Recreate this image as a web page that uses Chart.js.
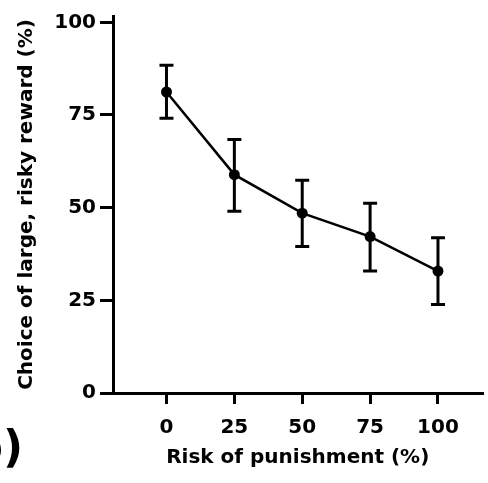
<!DOCTYPE html>
<html>
<head>
<meta charset="utf-8">
<script src="https://cdn.jsdelivr.net/npm/chart.js@4"></script>
<style>
  html, body { margin: 0; padding: 0; background: #fff; }
  #wrap { width: 488px; height: 483px; position: relative; }
</style>
</head>
<body>
<div id="wrap"><canvas id="c" width="488" height="483"></canvas></div>
<script>
const riskOfPunishment = [0, 25, 50, 75, 100];
const choiceLargeRisky = [81.2, 58.9, 48.5, 42.2, 32.9];
const errorLow = [74.1, 49.0, 39.5, 32.9, 23.9];
const errorHigh = [88.4, 68.4, 57.4, 51.2, 41.9];
const xTickValues = [0, 25, 50, 75, 100];
const yTickValues = [0, 25, 50, 75, 100];
const xTitle = 'Risk of punishment (%)';
const yTitle = 'Choice of large, risky reward (%)';
const panelLabel = '(b)';

const FONT = "'DejaVu Sans', sans-serif";

const errorBars = {
  id: 'errorBars',
  beforeDatasetsDraw(chart) {
    const ctx = chart.ctx;
    const xs = chart.scales.x, ys = chart.scales.y;
    ctx.save();
    ctx.strokeStyle = '#000';
    ctx.lineWidth = 3;
    ctx.lineCap = 'butt';
    for (let i = 0; i < riskOfPunishment.length; i++) {
      const x = xs.getPixelForValue(riskOfPunishment[i]);
      const yl = ys.getPixelForValue(errorLow[i]);
      const yh = ys.getPixelForValue(errorHigh[i]);
      ctx.beginPath();
      ctx.moveTo(x, yl); ctx.lineTo(x, yh);
      ctx.moveTo(x - 7, yl); ctx.lineTo(x + 7, yl);
      ctx.moveTo(x - 7, yh); ctx.lineTo(x + 7, yh);
      ctx.stroke();
    }
    ctx.restore();
  }
};

const panelLabelPlugin = {
  id: 'panelLabel',
  afterDraw(chart) {
    const ctx = chart.ctx;
    ctx.save();
    ctx.fillStyle = '#000';
    ctx.font = "bold 44px " + FONT;
    ctx.textAlign = 'right';
    ctx.textBaseline = 'alphabetic';
    ctx.fillText(panelLabel, 23, 462);
    ctx.restore();
  }
};

new Chart(document.getElementById('c'), {
  type: 'scatter',
  data: {
    datasets: [{
      data: riskOfPunishment.map((x, i) => ({ x: x, y: choiceLargeRisky[i] })),
      showLine: true,
      borderColor: '#000',
      borderWidth: 2.5,
      backgroundColor: '#000',
      pointRadius: 5.5,
      pointBorderWidth: 0,
      pointBackgroundColor: '#000',
      clip: false
    }]
  },
  options: {
    responsive: false,
    animation: false,
    devicePixelRatio: 1,
    layout: { padding: { top: 15, right: 2, left: 0, bottom: 0 } },
    plugins: { legend: { display: false }, tooltip: { enabled: false } },
    scales: {
      x: {
        type: 'linear',
        min: -19.7,
        max: 116.4,
        afterBuildTicks(scale) { scale.ticks = xTickValues.map(v => ({ value: v })); },
        afterFit(scale) { scale.height = 90; },
        border: { display: true, color: '#000', width: 3 },
        grid: { display: true, drawOnChartArea: false, drawTicks: true, tickLength: 11, color: '#000', lineWidth: 3 },
        ticks: { color: '#000', font: { family: FONT, size: 20, weight: 'bold' }, padding: 12, maxRotation: 0 },
        title: { display: true, text: xTitle, color: '#000', font: { family: FONT, size: 20, weight: 'bold' }, padding: { top: 0, bottom: 13 } }
      },
      y: {
        type: 'linear',
        min: 0,
        max: 101.7,
        afterBuildTicks(scale) { scale.ticks = yTickValues.map(v => ({ value: v })); },
        afterFit(scale) { scale.width = 113; },
        border: { display: true, color: '#000', width: 3 },
        grid: { display: true, drawOnChartArea: false, drawTicks: true, tickLength: 13, color: '#000', lineWidth: 3 },
        ticks: { color: '#000', font: { family: FONT, size: 20, weight: 'bold' }, padding: 4 },
        title: { display: true, text: yTitle, color: '#000', font: { family: FONT, size: 20, weight: 'bold' }, padding: { top: 15, bottom: 0 } }
      }
    }
  },
  plugins: [errorBars, panelLabelPlugin]
});
</script>
</body>
</html>
